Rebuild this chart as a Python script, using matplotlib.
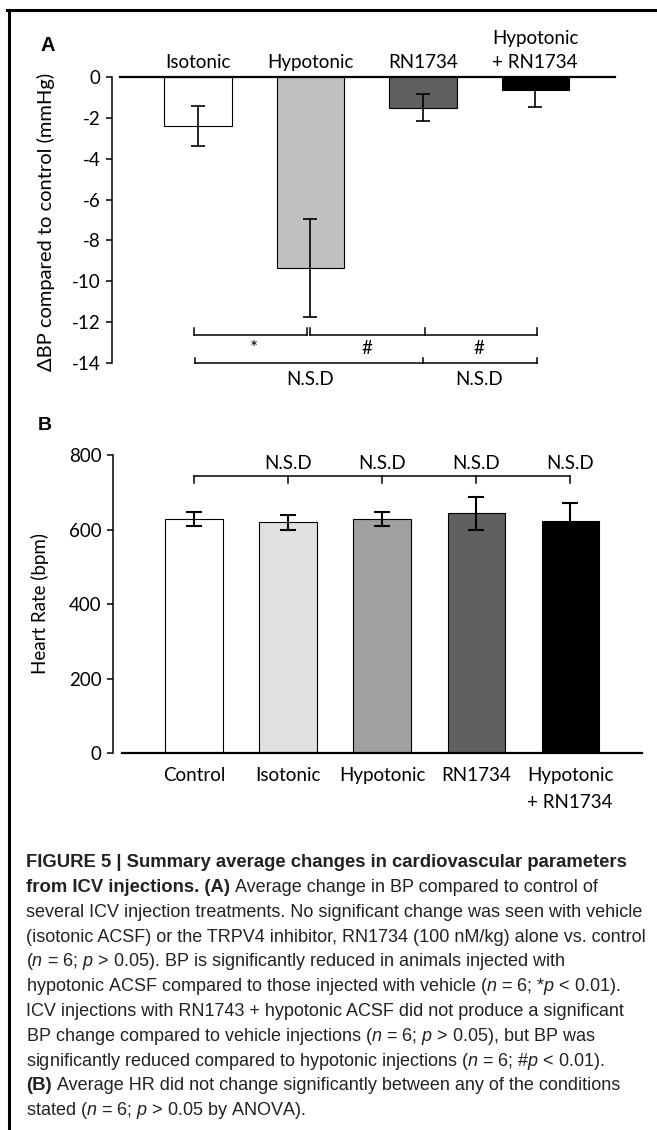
"""
Bar chart figure: ICV injection effects on blood pressure (A) and heart rate (B).
"""
import matplotlib
matplotlib.use("Agg")
import matplotlib.pyplot as plt
from matplotlib.lines import Line2D

plt.rcParams['font.family'] = ['Lato', 'DejaVu Sans']
plt.rcParams['axes.unicode_minus'] = False
plt.rcParams['mathtext.fontset'] = 'custom'
plt.rcParams['mathtext.rm'] = 'Liberation Sans'
plt.rcParams['mathtext.it'] = 'Liberation Sans:italic'
plt.rcParams['mathtext.bf'] = 'Liberation Sans:bold'

W, H = 657, 1130

# Panel A: change in blood pressure
bp_labels = ['Isotonic', 'Hypotonic', 'RN1734', 'Hypotonic\n+ RN1734']
bp_change = [-2.4, -9.33, -1.5, -0.64]
bp_err_low = [1.0, 2.4, 0.67, 0.81]
bp_err_high = [1.0, 2.4, 0.67, 0.0]
bp_colors = ['white', '#c0c0c0', '#606060', 'black']

# Panel B: heart rate
hr_labels = ['Control', 'Isotonic', 'Hypotonic', 'RN1734', 'Hypotonic\n+ RN1734']
hr_values = [628, 619, 628, 644, 624]
hr_err = [19, 21, 19, 44, 46]
hr_colors = ['white', '#e0e0e0', '#a0a0a0', '#606060', 'black']

caption_lines = [
    [("FIGURE 5 | Summary average changes in cardiovascular parameters", 'bold')],
    [("from ICV injections. (A)", 'bold'),
     ("Average change in BP compared to control of", 'normal')],
    [("several ICV injection treatments. No significant change was seen with vehicle", 'normal')],
    [("(isotonic ACSF) or the TRPV4 inhibitor, RN1734 (100 nM/kg) alone vs. control", 'normal')],
    [("($n$ = 6; $p$ > 0.05). BP is significantly reduced in animals injected with", 'normal')],
    [("hypotonic ACSF compared to those injected with vehicle ($n$ = 6; *$p$ < 0.01).", 'normal')],
    [("ICV injections with RN1743 + hypotonic ACSF did not produce a significant", 'normal')],
    [("BP change compared to vehicle injections ($n$ = 6; $p$ > 0.05), but BP was", 'normal')],
    [("significantly reduced compared to hypotonic injections ($n$ = 6; #$p$ < 0.01).", 'normal')],
    [("(B)", 'bold'),
     ("Average HR did not change significantly between any of the conditions", 'normal')],
    [("stated ($n$ = 6; $p$ > 0.05 by ANOVA).", 'normal')],
]

FS = 13.5
CAP_FS = 13.0
CAP_BOLD_FS = 13.3


def px_box(left, top, right, bottom):
    """Axes rectangle in figure fraction from pixel edges."""
    return [left / W, 1 - bottom / H, (right - left) / W, (bottom - top) / H]


def bracket(ax, x0, x1, ticks, y, tick_len):
    ax.plot([x0, x1], [y, y], color='black', lw=1.1, clip_on=False)
    for t in ticks:
        ax.plot([t, t], [y, y + tick_len], color='black', lw=1.1, clip_on=False)


def style_axis(ax):
    for side in ['top', 'right', 'bottom']:
        ax.spines[side].set_visible(False)
    ax.spines['left'].set_linewidth(1.1)
    ax.tick_params(axis='y', length=4, width=1.1, pad=4, labelsize=FS)


fig = plt.figure(figsize=(W / 100, H / 100), dpi=100)

# ---- Panel A ----
ax_a = fig.add_axes(px_box(111.6, 77, 615, 363))
xa = list(range(len(bp_labels)))
ax_a.bar(xa, bp_change, width=0.6, color=bp_colors, edgecolor='black', linewidth=0.8,
         yerr=[bp_err_low, bp_err_high],
         error_kw=dict(ecolor='black', elinewidth=1.2, capsize=5, capthick=1.2))
ax_a.set_xlim(-0.77, 3.71)
ax_a.set_ylim(-14, 0)
ax_a.set_yticks(range(-14, 1, 2))
style_axis(ax_a)
ax_a.axhline(0, xmin=(120 - 111.6) / (615 - 111.6), xmax=1, color='black', lw=1.6, clip_on=False)
ax_a.xaxis.tick_top()
ax_a.set_xticks(xa)
ax_a.set_xticklabels(bp_labels)
ax_a.tick_params(axis='x', length=0, pad=4, labelsize=FS)
ax_a.get_xticklabels()[-1].set_multialignment('left')
ax_a.get_xticklabels()[-1].set_linespacing(1.55)

# significance brackets
bracket(ax_a, xa[0] - 0.04, xa[1] - 0.035, [xa[0] - 0.04, xa[1] - 0.035], -12.63, 0.34)
bracket(ax_a, xa[1] - 0.005, xa[3] + 0.02, [xa[1] - 0.005, xa[2] + 0.02, xa[3] + 0.02], -12.63, 0.34)
bracket(ax_a, xa[0] - 0.03, xa[3] + 0.02, [xa[0] - 0.03, xa[2], xa[3] + 0.02], -14.0, 0.25)
for xm, s in [((xa[0] + xa[1]) / 2, '*'), ((xa[1] + xa[2]) / 2, '#'), ((xa[2] + xa[3]) / 2, '#')]:
    ax_a.text(xm, -13.3, s, ha='center', va='center', fontsize=FS, clip_on=False)
for xm in [(xa[0] + xa[2]) / 2, (xa[2] + xa[3]) / 2]:
    ax_a.text(xm, -14.83, 'N.S.D', ha='center', va='center', fontsize=FS, clip_on=False)

# ---- Panel B ----
ax_b = fig.add_axes(px_box(112.9, 455, 642, 753.3))
xb = list(range(len(hr_labels)))
ax_b.bar(xb, hr_values, width=0.61, color=hr_colors, edgecolor='black', linewidth=0.8,
         yerr=hr_err,
         error_kw=dict(ecolor='black', elinewidth=1.5, capsize=6, capthick=1.5))
ax_b.set_xlim(-0.86, 4.76)
ax_b.set_ylim(0, 800)
ax_b.set_yticks(range(0, 801, 200))
style_axis(ax_b)
ax_b.axhline(0, xmin=(122 - 112.9) / (642 - 112.9), xmax=1, color='black', lw=1.6, clip_on=False)
ax_b.set_xticks(xb)
ax_b.set_xticklabels(hr_labels)
ax_b.tick_params(axis='x', length=0, pad=10, labelsize=FS)
ax_b.get_xticklabels()[-1].set_multialignment('left')
ax_b.get_xticklabels()[-1].set_linespacing(1.7)

bracket(ax_b, xb[0], xb[-1], xb, 745, -20)
for xm in xb[1:]:
    ax_b.text(xm, 777, 'N.S.D', ha='center', va='center', fontsize=FS, clip_on=False)

# axis titles and panel letters
fig.text(45.5 / W, 1 - 222 / H, 'ΔBP compared to control (mmHg)', rotation=90,
         ha='center', va='center', fontsize=14.5)
fig.text(40 / W, 1 - 603.5 / H, 'Heart Rate (bpm)', rotation=90,
         ha='center', va='center', fontsize=FS)
fig.text(47.5 / W, 1 - 45.5 / H, 'A', fontweight='bold', fontsize=14.5,
         ha='center', va='center', family='Liberation Sans')
fig.text(45 / W, 1 - 426 / H, 'B', fontweight='bold', fontsize=14,
         ha='center', va='center', family='Liberation Sans')

# frame lines on the top and left
fig.add_artist(Line2D([7 / W, 1], [1 - 9.5 / H] * 2, lw=2.2, color='black'))
fig.add_artist(Line2D([8.5 / W] * 2, [0, 1 - 9.5 / H], lw=2.2, color='black'))

# caption
renderer = fig.canvas.get_renderer()
for i, line in enumerate(caption_lines):
    y = 1 - (867.3 + 24.8 * i) / H
    x_px = 26
    for text, weight in line:
        size = CAP_BOLD_FS if weight == 'bold' else CAP_FS
        t = fig.text(x_px / W, y, text, ha='left', va='baseline', fontsize=size,
                     family='Liberation Sans', fontweight=weight, color='#222222')
        bb = t.get_window_extent(renderer)
        x_px = bb.x1 + 0.278 * size * 100 / 72

fig.savefig('out.png', dpi=100)
